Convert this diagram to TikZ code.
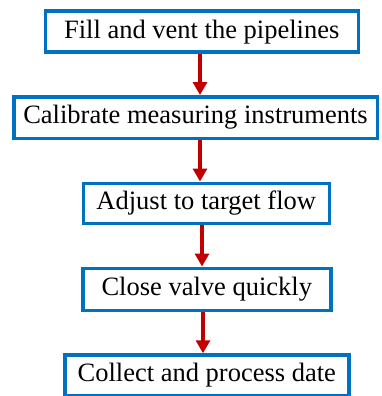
\documentclass[tikz,border=0pt]{standalone}
\usepackage{fontspec}
\setmainfont{Liberation Serif}
\usetikzlibrary{arrows.meta}
\definecolor{boxblue}{HTML}{0070C0}
\definecolor{arrred}{HTML}{C00000}
\tikzset{
  stepbox/.style={draw=boxblue, line width=3.5pt, fill=white, inner sep=0pt,
    font=\fontsize{26.5}{30}\selectfont, anchor=center},
  arr/.style={draw=arrred, line width=4pt, -{Triangle[width=14pt,length=13pt]}}
}
\begin{document}
\begin{tikzpicture}[x=1pt,y=-1pt]
\useasboundingbox (0,0) rectangle (381,396);
\node[stepbox, minimum width=313pt, minimum height=41pt] (b1) at (201.75,31.75) {Fill and vent the pipelines};
\node[stepbox, minimum width=363.5pt, minimum height=41.5pt] (b2) at (195.5,117.5) {Calibrate measuring instruments};
\node[stepbox, minimum width=246pt, minimum height=40pt] (b3) at (206.25,203.25) {Adjust to target flow};
\node[stepbox, minimum width=248pt, minimum height=42pt] (b4) at (206.75,289.25) {Close valve quickly};
\node[stepbox, minimum width=284pt, minimum height=41pt] (b5) at (206.75,375.5) {Collect and process date};
\draw[arr] ([xshift=-1.75pt]b1.south) -- ([xshift=-1.75pt]b1.south |- b2.north);
\draw[arr] ([xshift=4.5pt]b2.south) -- ([xshift=4.5pt]b2.south |- b3.north);
\draw[arr] ([xshift=-4.25pt]b3.south) -- ([xshift=-4.25pt]b3.south |- b4.north);
\draw[arr] ([xshift=-3.75pt]b4.south) -- ([xshift=-3.75pt]b4.south |- b5.north);
\end{tikzpicture}
\end{document}
